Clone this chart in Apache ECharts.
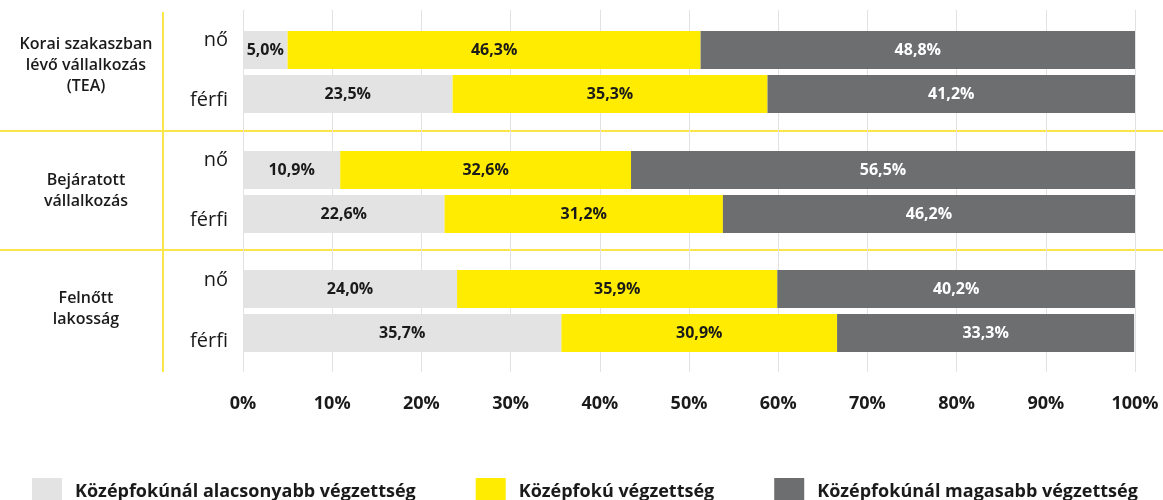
<!DOCTYPE html>
<html>
<head>
<meta charset="utf-8">
<script src="https://cdn.jsdelivr.net/npm/echarts@6/dist/echarts.min.js"></script>
<style>
html,body{margin:0;padding:0;background:#fff;}
#chart{width:1163px;height:500px;}
</style>
</head>
<body>
<div id="chart"></div>
<script>
// ---- data ----
const groups = ['Korai szakaszban\nlévő vállalkozás\n(TEA)', 'Bejáratott\nvállalkozás', 'Felnőtt\nlakosság'];
const genders = ['nő', 'férfi'];
const seriesNames = ['Középfokúnál alacsonyabb végzettség', 'Középfokú végzettség', 'Középfokúnál magasabb végzettség'];
// values per group: [nő, férfi]
const lowerEdu  = [[5.0, 23.5], [10.9, 22.6], [24.0, 35.7]];
const middleEdu = [[46.3, 35.3], [32.6, 31.2], [35.9, 30.9]];
const higherEdu = [[48.8, 41.2], [56.5, 46.2], [40.2, 33.3]];
const xTicks = [0, 10, 20, 30, 40, 50, 60, 70, 80, 90, 100];

// ---- styles ----
const colors = ['#e3e3e3', '#ffec00', '#6d6e70'];
const labelColors = ['#1a1a1a', '#1a1a1a', '#ffffff'];
const allData = [lowerEdu, middleEdu, higherEdu];
const font = 'Open Sans';

const blockGrids = [
  {left: 243, right: 28, top: 10, height: 121},
  {left: 243, right: 28, top: 131, height: 119},
  {left: 243, right: 28, top: 250, height: 122}
];
const barGrids = [
  {left: 243, right: 28, top: 28, height: 88},
  {left: 243, right: 28, top: 148, height: 88},
  {left: 243, right: 28, top: 267, height: 88}
];

const grid = blockGrids.concat(barGrids);
const xAxis = [];
const yAxis = [];
blockGrids.forEach((g, i) => {
  xAxis.push({
    type: 'value', gridIndex: i, min: xTicks[0], max: xTicks[xTicks.length - 1], interval: xTicks[1] - xTicks[0],
    axisLine: {show: false}, axisTick: {show: false},
    splitLine: {show: true, lineStyle: {color: '#e2e2e2', width: 1}},
    axisLabel: {show: i === 2, margin: 23, formatter: v => v + '%', color: '#1a1a1a',
      fontFamily: font, fontWeight: 'bold', fontSize: 18}
  });
  yAxis.push({
    type: 'category', gridIndex: i, data: genders, inverse: true,
    axisLine: {show: false}, axisTick: {show: false}, splitLine: {show: false},
    axisLabel: {margin: 15, color: '#1a1a1a', fontFamily: font, fontSize: 20}
  });
});
barGrids.forEach((g, i) => {
  xAxis.push({
    type: 'value', gridIndex: 3 + i, min: 0, max: 100, show: false, splitLine: {show: false}
  });
  yAxis.push({
    type: 'category', gridIndex: 3 + i, data: genders, inverse: true, show: false
  });
});

const series = [];
groups.forEach((gname, gi) => {
  seriesNames.forEach((sname, si) => {
    series.push({
      name: sname, type: 'bar', stack: 'grp' + gi,
      xAxisIndex: 3 + gi, yAxisIndex: 3 + gi,
      barWidth: 38,
      itemStyle: {color: colors[si]},
      label: {
        show: true, position: 'inside', color: labelColors[si],
        fontFamily: font, fontWeight: 'bold', fontSize: 16,
        formatter: p => p.value.toFixed(1).replace('.', ',') + '%'
      },
      data: allData[si][gi],
      animation: false
    });
  });
});

const groupCenters = [65, 191, 309];
const graphic = [
  {type: 'line', shape: {x1: 163, y1: 12, x2: 163, y2: 372}, style: {stroke: '#fae54a', lineWidth: 2}},
  {type: 'line', shape: {x1: 0, y1: 131, x2: 1163, y2: 131}, style: {stroke: '#fae54a', lineWidth: 2}},
  {type: 'line', shape: {x1: 0, y1: 250, x2: 1163, y2: 250}, style: {stroke: '#fae54a', lineWidth: 2}}
];
groups.forEach((g, i) => {
  graphic.push({
    type: 'text', x: 86, y: groupCenters[i],
    style: {text: g, fill: '#1a1a1a', font: '600 16px "Open Sans"', align: 'center', verticalAlign: 'middle', lineHeight: 21}
  });
});

const chart = echarts.init(document.getElementById('chart'));
chart.setOption({
  animation: false,
  grid: grid,
  xAxis: xAxis,
  yAxis: yAxis,
  legend: {
    data: seriesNames, left: 27, top: 473, icon: 'rect', itemWidth: 30, itemHeight: 27, itemGap: 60,
    textStyle: {color: '#1a1a1a', fontFamily: font, fontWeight: 'bold', fontSize: 18, padding: [0, 0, 0, 8]}
  },
  graphic: graphic,
  series: series
});
</script>
</body>
</html>
